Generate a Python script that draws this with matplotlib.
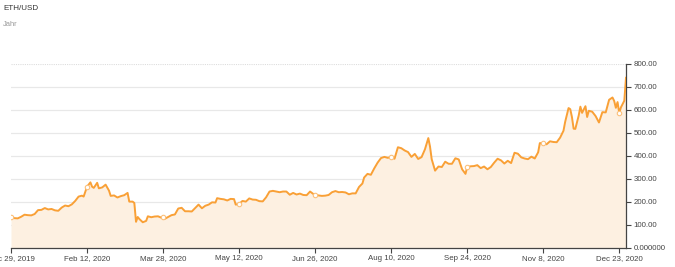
import matplotlib
matplotlib.use("Agg")
import matplotlib.pyplot as plt
import matplotlib.dates as mdates
import numpy as np
import pandas as pd

plt.rcParams['font.family'] = ['Liberation Sans', 'DejaVu Sans']

title = "ETH/USD"
subtitle = "Jahr"

dates = [
    "2019-12-29", "2019-12-31", "2020-01-02", "2020-01-04", "2020-01-06", "2020-01-08",
    "2020-01-10", "2020-01-12", "2020-01-14", "2020-01-16", "2020-01-18", "2020-01-20",
    "2020-01-22", "2020-01-24", "2020-01-26", "2020-01-28", "2020-01-30", "2020-02-01",
    "2020-02-03", "2020-02-05", "2020-02-07", "2020-02-09", "2020-02-10", "2020-02-12",
    "2020-02-14", "2020-02-15", "2020-02-16", "2020-02-18", "2020-02-19", "2020-02-21",
    "2020-02-23", "2020-02-25", "2020-02-26", "2020-02-28", "2020-03-01", "2020-03-03",
    "2020-03-05", "2020-03-07", "2020-03-08", "2020-03-10", "2020-03-11", "2020-03-12",
    "2020-03-13", "2020-03-14", "2020-03-16", "2020-03-18", "2020-03-19", "2020-03-21",
    "2020-03-23", "2020-03-25", "2020-03-27", "2020-03-28", "2020-03-29", "2020-03-31",
    "2020-04-02", "2020-04-04", "2020-04-06", "2020-04-08", "2020-04-10", "2020-04-12",
    "2020-04-14", "2020-04-16", "2020-04-18", "2020-04-20", "2020-04-22", "2020-04-24",
    "2020-04-26", "2020-04-28", "2020-04-29", "2020-05-01", "2020-05-03", "2020-05-05",
    "2020-05-07", "2020-05-09", "2020-05-10", "2020-05-12", "2020-05-14", "2020-05-16",
    "2020-05-18", "2020-05-20", "2020-05-22", "2020-05-24", "2020-05-26", "2020-05-28",
    "2020-05-30", "2020-06-01", "2020-06-03", "2020-06-05", "2020-06-07", "2020-06-09",
    "2020-06-11", "2020-06-13", "2020-06-15", "2020-06-17", "2020-06-19", "2020-06-21",
    "2020-06-23", "2020-06-25", "2020-06-26", "2020-06-28", "2020-06-30", "2020-07-02",
    "2020-07-04", "2020-07-06", "2020-07-08", "2020-07-10", "2020-07-12", "2020-07-14",
    "2020-07-16", "2020-07-18", "2020-07-20", "2020-07-22", "2020-07-24", "2020-07-25",
    "2020-07-27", "2020-07-29", "2020-07-31", "2020-08-02", "2020-08-04", "2020-08-06",
    "2020-08-08", "2020-08-10", "2020-08-12", "2020-08-14", "2020-08-16", "2020-08-18",
    "2020-08-20", "2020-08-22", "2020-08-24", "2020-08-26", "2020-08-28", "2020-08-30",
    "2020-09-01", "2020-09-02", "2020-09-03", "2020-09-05", "2020-09-07", "2020-09-09",
    "2020-09-11", "2020-09-13", "2020-09-15", "2020-09-17", "2020-09-19", "2020-09-21",
    "2020-09-23", "2020-09-24", "2020-09-26", "2020-09-28", "2020-09-30", "2020-10-02",
    "2020-10-04", "2020-10-06", "2020-10-08", "2020-10-10", "2020-10-12", "2020-10-14",
    "2020-10-16", "2020-10-18", "2020-10-20", "2020-10-22", "2020-10-24", "2020-10-26",
    "2020-10-28", "2020-10-30", "2020-11-01", "2020-11-03", "2020-11-05", "2020-11-06",
    "2020-11-08", "2020-11-10", "2020-11-12", "2020-11-14", "2020-11-16", "2020-11-18",
    "2020-11-20", "2020-11-21", "2020-11-23", "2020-11-24", "2020-11-25", "2020-11-26",
    "2020-11-27", "2020-11-29", "2020-11-30", "2020-12-01", "2020-12-03", "2020-12-04",
    "2020-12-05", "2020-12-07", "2020-12-09", "2020-12-11", "2020-12-13", "2020-12-15",
    "2020-12-17", "2020-12-19", "2020-12-20", "2020-12-21", "2020-12-22", "2020-12-23",
    "2020-12-24", "2020-12-25", "2020-12-26", "2020-12-27",
]
prices = [
    133, 128, 127, 134, 143, 141,
    140, 146, 163, 164, 172, 166,
    168, 162, 160, 174, 183, 180,
    188, 203, 222, 226, 222, 265,
    284, 265, 260, 282, 258, 262,
    274, 248, 225, 227, 218, 224,
    228, 238, 200, 200, 194, 112,
    133, 124, 110, 116, 136, 132,
    135, 136, 130, 131, 125, 133,
    141, 144, 170, 173, 158, 158,
    157, 172, 187, 171, 182, 187,
    197, 196, 215, 212, 210, 205,
    212, 211, 187, 190, 203, 200,
    214, 209, 208, 202, 201, 219,
    244, 247, 244, 241, 244, 244,
    230, 238, 231, 235, 229, 228,
    244, 233, 230, 227, 225, 226,
    229, 241, 246, 241, 242, 240,
    232, 236, 236, 264, 279, 305,
    321, 317, 345, 370, 390, 395,
    391, 394, 387, 437, 433, 423,
    416, 395, 408, 386, 394, 428,
    477, 440, 385, 335, 353, 351,
    374, 365, 365, 389, 384, 341,
    321, 350, 354, 355, 359, 346,
    353, 341, 351, 370, 387, 380,
    366, 378, 368, 413, 409, 393,
    388, 385, 396, 388, 415, 455,
    455, 450, 463, 460, 459, 479,
    509, 548, 608, 603, 569, 518,
    517, 575, 614, 587, 616, 569,
    596, 592, 573, 545, 590, 589,
    644, 654, 639, 609, 634, 586,
    611, 626, 640, 740,
]
tick_dates = ["2019-12-29", "2020-02-12", "2020-03-28", "2020-05-12", "2020-06-26",
              "2020-08-10", "2020-09-24", "2020-11-08", "2020-12-23"]
tick_labels = ["Dec 29, 2019", "Feb 12, 2020", "Mar 28, 2020", "May 12, 2020", "Jun 26, 2020",
               "Aug 10, 2020", "Sep 24, 2020", "Nov 8, 2020", "Dec 23, 2020"]
y_ticks = [0, 100, 200, 300, 400, 500, 600, 700, 800]
y_labels = ["0.000000", "100.00", "200.00", "300.00", "400.00", "500.00", "600.00", "700.00", "800.00"]

x = pd.to_datetime(dates)
xt = pd.to_datetime(tick_dates)
y = np.array(prices, dtype=float)

fig = plt.figure(figsize=(6.75, 2.67), dpi=100)
ax = fig.add_axes([11/675, 1 - 247.5/267, (626 - 11)/675, (247.5 - 64)/267])

line_c = "#F9A036"
fill_c = "#FDF0E1"

ax.fill_between(x, y, 0, color=fill_c, linewidth=0, zorder=1)
ax.plot(x, y, color=line_c, linewidth=1.4, zorder=3)
mark_idx = [dates.index(d) for d in tick_dates]
ax.plot(x[mark_idx], y[mark_idx], linestyle="none", marker="o", markersize=3.2,
        markerfacecolor="white", markeredgecolor="#FBC07A", markeredgewidth=0.8, zorder=4)

ax.set_xlim(pd.Timestamp("2019-12-29"), pd.Timestamp("2020-12-27"))
ax.set_ylim(0, 800)

for v in y_ticks[1:-1]:
    ax.axhline(v, color="#e8e8e8", linewidth=0.9, zorder=0)
ax.axhline(800, color="#dddddd", linewidth=0.8, linestyle=(0, (1, 1)), zorder=0)

ax.yaxis.tick_right()
ax.set_yticks(y_ticks)
ax.set_yticklabels(y_labels)
ax.set_xticks(xt)
ax.set_xticklabels(tick_labels)
ax.tick_params(axis="both", labelsize=5.7, colors="#444444", length=3.5, width=0.8, pad=2)
ax.tick_params(axis="y", pad=2)

for s in ["top", "left"]:
    ax.spines[s].set_visible(False)
ax.spines["right"].set_color("#444444")
ax.spines["bottom"].set_color("#444444")
ax.spines["right"].set_linewidth(0.9)
ax.spines["bottom"].set_linewidth(0.9)

fig.text(3/675, 1 - 8/267, title, fontsize=5.8, color="#333333", va="center", ha="left")
fig.text(3/675, 1 - 24/267, subtitle, fontsize=5.4, color="#999999", va="center", ha="left")

fig.savefig("out.png", dpi=100)
